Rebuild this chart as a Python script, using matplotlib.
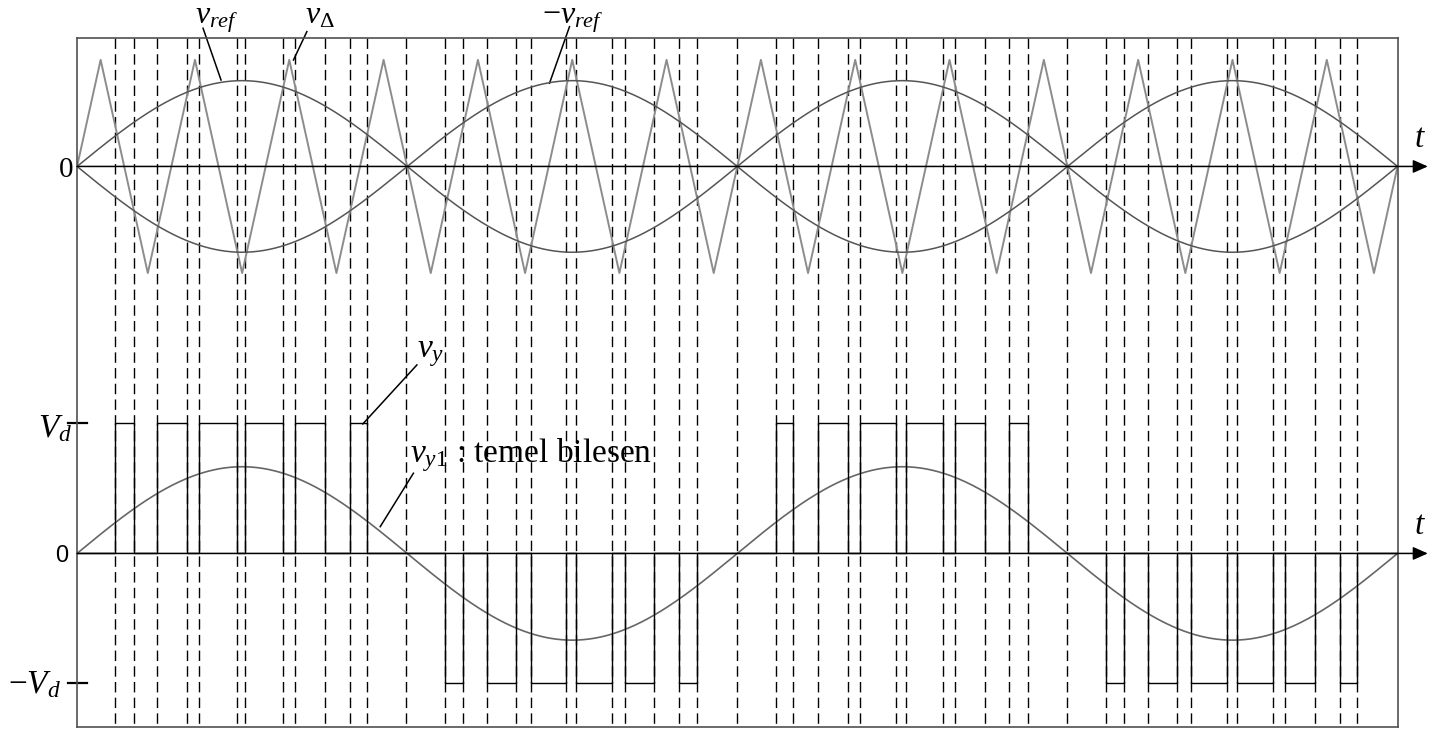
#!/usr/bin/env python3

import matplotlib
matplotlib.use('Agg')
import matplotlib.pyplot as plt
import numpy as np

plt.rcParams['mathtext.fontset'] = 'custom'
plt.rcParams['mathtext.rm'] = 'Liberation Serif'
plt.rcParams['mathtext.it'] = 'Liberation Serif:italic'
plt.rcParams['mathtext.bf'] = 'Liberation Serif:bold'

# time in electrical degrees, two fundamental periods
t_end = 720.0
carrier_ratio = 7      # carrier periods per fundamental period
carrier_peak = 0.82    # triangle amplitude
ref_peak = 0.66        # +/- v_ref amplitude
fund_peak = 0.667      # v_y1 amplitude (per Vd)
Vd = 1.0
top_zero = 2.977       # zero axis of the upper traces

# v_y switching instants [deg] and pulse polarity
pulse_on = [20.7, 43.8, 66.7, 91.8, 118.9, 148.7,
            200.7, 223.5, 247.3, 272.2, 298.5, 328.4,
            381.1, 404.0, 426.9, 452.2, 478.7, 508.4,
            560.9, 583.8, 607.5, 632.3, 658.9, 688.7]
pulse_off = [31.1, 60.0, 87.1, 112.2, 135.1, 158.2,
             210.7, 239.3, 266.7, 291.8, 314.7, 338.0,
             390.5, 420.4, 446.6, 472.4, 495.3, 518.3,
             570.9, 599.5, 627.1, 652.2, 675.1, 698.0]
pulse_sign = [1] * 6 + [-1] * 6 + [1] * 6 + [-1] * 6
zero_cross = [179.5, 360.0, 539.5]


if __name__ == '__main__':

	fig = plt.figure(figsize=(14.43, 7.31), dpi=100)
	ax = fig.add_axes([0.0534, 0.0055, 0.9151, 0.9425])
	ax.set_xlim(0, t_end)
	ax.set_ylim(-1.335, 3.965)
	ax.set_xticks([])
	ax.set_yticks([])
	for s in ax.spines.values():
		s.set_color('#505050')
		s.set_linewidth(1.2)

	# dashed markers at every switching instant
	y_lo, y_hi = ax.get_ylim()
	for x in sorted(pulse_on + pulse_off + zero_cross):
		ax.plot([x, x], [y_hi, y_lo], color='black', lw=1.0, dashes=(7.5, 3.8), zorder=1)

	# triangular carrier
	half = 360.0 / (2 * carrier_ratio)
	peak_t = half / 2 + half * np.arange(4 * carrier_ratio)
	peak_v = carrier_peak * (-1.0) ** np.arange(len(peak_t))
	tri_t = np.concatenate([[0], peak_t, [t_end]])
	tri_v = np.concatenate([[0], peak_v, [0]])
	ax.plot(tri_t, top_zero + tri_v, color='#8c8c8c', lw=1.4, zorder=2)

	# references and fundamental
	t = np.linspace(0, t_end, 1441)
	ref = ref_peak * np.sin(np.radians(t))
	ax.plot(t, top_zero + ref, color='#555555', lw=1.1, zorder=3)
	ax.plot(t, top_zero - ref, color='#555555', lw=1.1, zorder=3)
	ax.plot(t, fund_peak * Vd * np.sin(np.radians(t)), color='#666666', lw=1.2, zorder=3)

	# output voltage v_y
	vy_t, vy_v = [0.0], [0.0]
	for on, off, sg in zip(pulse_on, pulse_off, pulse_sign):
		vy_t += [on, on, off, off]
		vy_v += [0, sg * Vd, sg * Vd, 0]
	vy_t.append(t_end)
	vy_v.append(0.0)
	ax.plot(vy_t, vy_v, color='black', lw=1.0, zorder=4)

	# time axes with arrows
	for y in (top_zero, 0.0):
		ax.annotate('', xy=(736.5, y), xytext=(0, y), annotation_clip=False,
			arrowprops=dict(arrowstyle='-|>,head_length=0.45,head_width=0.2',
				color='black', lw=1.1, shrinkA=0, shrinkB=0, mutation_scale=20))
		ax.text(729.0, y + 0.15, '$t$', fontsize=24, ha='left', va='baseline')

	# Vd ticks
	for v in (Vd, -Vd):
		ax.plot([-4.9, 5.5], [v, v], color='black', lw=1.6, clip_on=False)

	ax.text(-2.2, 2.896, '0', fontsize=21, family='Liberation Serif', ha='right', va='baseline')
	ax.text(-4.9, -0.065, '0', fontsize=17, family='Liberation Sans', ha='right', va='baseline')
	ax.text(-21.3, 0.896, '$V_d$', fontsize=24, ha='left', va='baseline')
	ax.text(-37.6, -1.073, '$-V_d$', fontsize=24, ha='left', va='baseline')

	# labels with leader lines
	ax.text(64.4, 4.075, '$v_{ref}$', fontsize=23, ha='left', va='baseline')
	ax.plot([68.7, 78.5], [4.040, 3.642], color='black', lw=1.1, clip_on=False)
	ax.text(124.4, 4.075, r'$v_{\Delta}$', fontsize=23, ha='left', va='baseline')
	ax.plot([125.3, 118.0], [4.014, 3.796], color='black', lw=1.1, clip_on=False)
	ax.text(253.6, 4.075, '$-v_{ref}$', fontsize=23, ha='left', va='baseline')
	ax.plot([268.5, 257.6], [4.052, 3.617], color='black', lw=1.1, clip_on=False)
	ax.text(185.5, 1.512, '$v_y$', fontsize=24, ha='left', va='baseline')
	ax.plot([185.3, 155.8], [1.45, 0.996], color='black', lw=1.1, clip_on=False)
	ax.text(181.6, 0.704, '$v_{y1}$ : temel bilesen', fontsize=24,
		family='Liberation Serif', ha='left', va='baseline')
	ax.plot([183.4, 165.3], [0.617, 0.206], color='black', lw=1.1, clip_on=False)

	plt.savefig('out.png', dpi=100)
